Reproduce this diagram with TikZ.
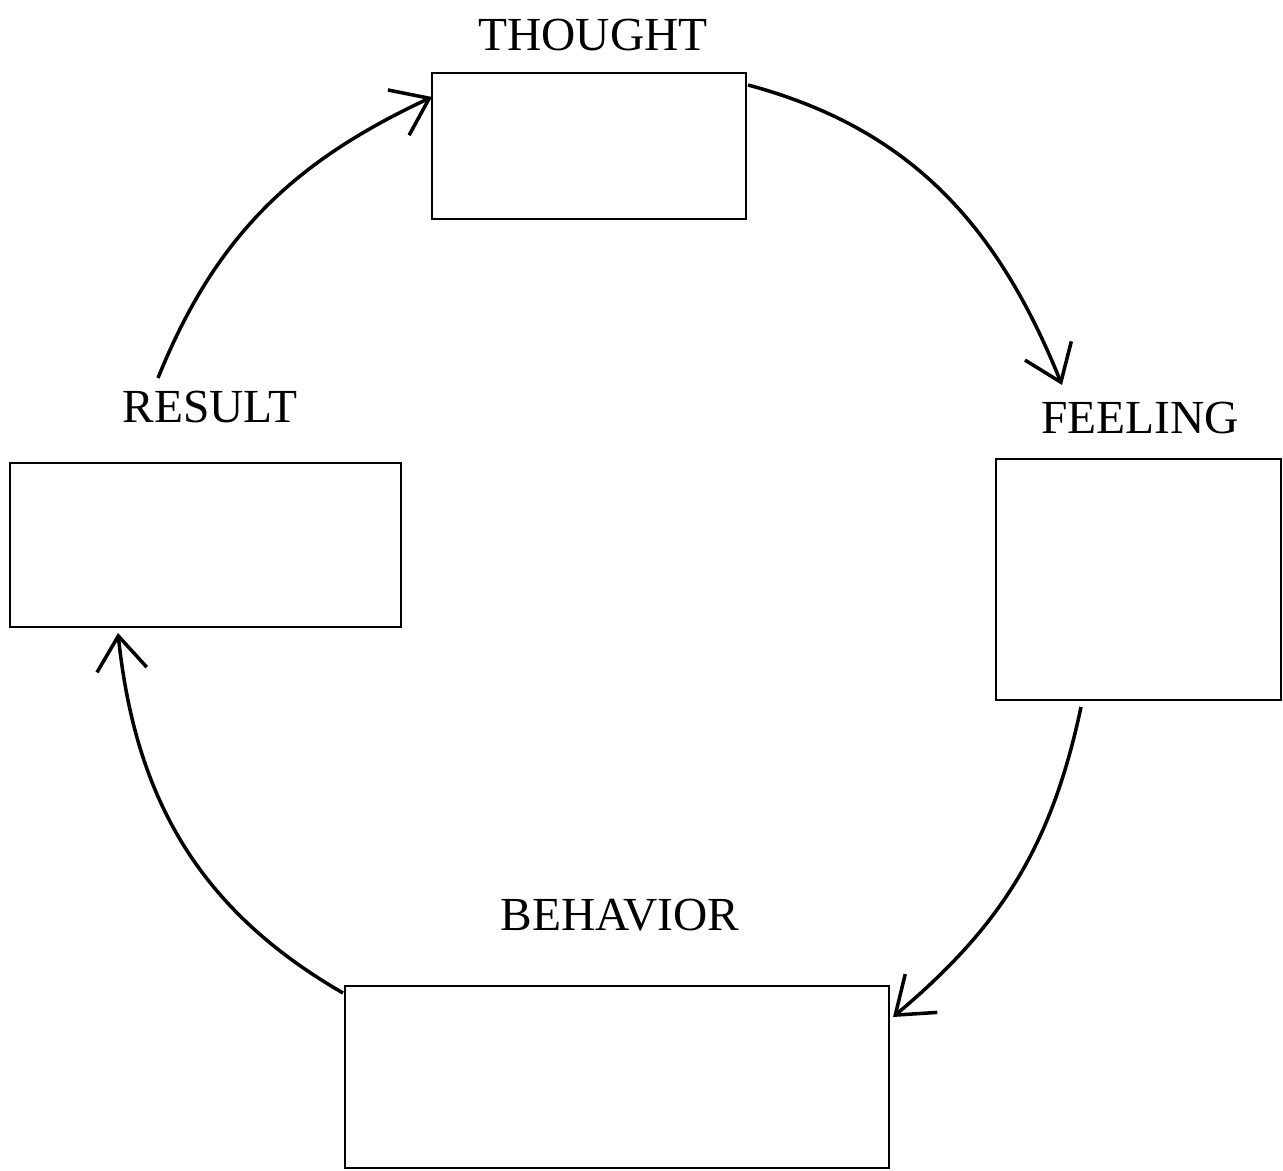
\documentclass[tikz,border=0pt]{standalone}
\usepackage{fontspec}
\setmainfont{Liberation Serif}
\usetikzlibrary{arrows.meta}
\begin{document}
\begin{tikzpicture}[
  box/.style={draw, line width=1.4pt, inner sep=0pt},
  lbl/.style={font=\fontsize{27}{30}\selectfont, inner sep=0pt},
  cyc/.style={line width=2pt, -{Straight Barb[length=0.68cm, width=1.0cm]}}
]
\useasboundingbox (0,0) rectangle (25.66,-23.42);
\node[box, minimum width=6.28cm, minimum height=2.92cm] (thought) at (11.78,-2.92) {};
\node[box, minimum width=5.7cm, minimum height=4.82cm] (feeling) at (22.77,-11.59) {};
\node[box, minimum width=7.82cm, minimum height=3.28cm] (result) at (4.11,-10.9) {};
\node[box, minimum width=10.88cm, minimum height=3.64cm] (behavior) at (12.34,-21.54) {};
\node[lbl] (tl) at (11.86,-0.70) {THOUGHT};
\node[lbl] (fl) at (22.80,-8.36) {FEELING};
\node[lbl] (rl) at (4.20,-8.14) {RESULT};
\node[lbl] (bl) at (12.40,-18.30) {BEHAVIOR};
\coordinate (r1) at (3.16,-7.56);
\coordinate (t1) at (8.64,-1.94);
\coordinate (t2) at (14.96,-1.70);
\coordinate (f1) at (21.24,-7.70);
\coordinate (f2) at (21.62,-14.14);
\coordinate (b1) at (17.86,-20.34);
\coordinate (b2) at (6.86,-19.86);
\coordinate (r2) at (2.36,-12.66);
\draw[cyc] (r1) to[out=68, in=205] (t1);
\draw[cyc] (t2) to[out=-15, in=112] (f1);
\draw[cyc] (f2) to[out=-102, in=40] (b1);
\draw[cyc] (b2) to[out=150, in=-84] (r2);
\end{tikzpicture}
\end{document}
